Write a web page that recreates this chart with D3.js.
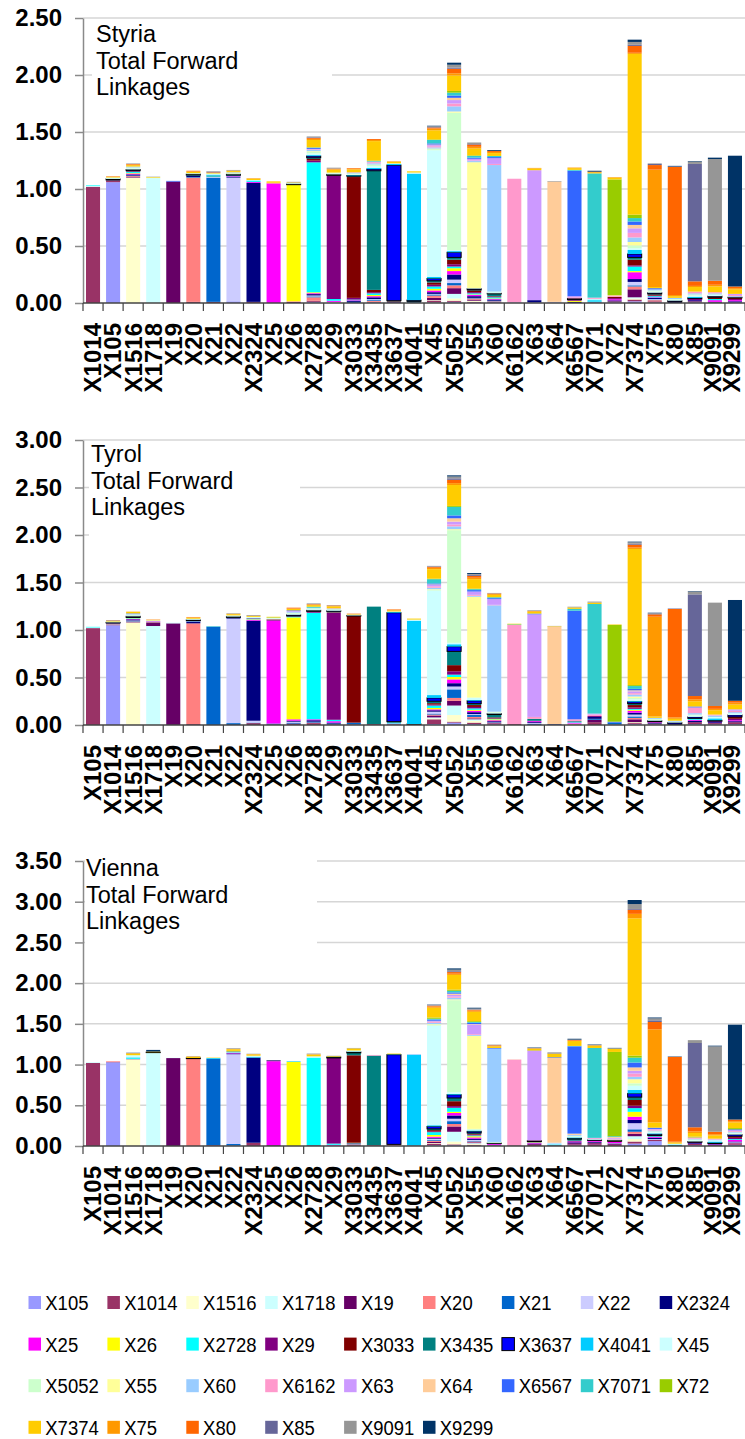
<!DOCTYPE html>
<html>
<head>
<meta charset="utf-8">
<script src="https://cdn.jsdelivr.net/npm/d3@7"></script>
<style>
  body { margin: 0; background: #fff; }
  svg { display: block; font-family: Arial, 'Liberation Sans', sans-serif; }
</style>
</head>
<body>
<div id="chart"></div>
<script>
// supplying sectors, in stacking order (bottom first)
let sectors = ["X105","X1014","X1516","X1718","X19","X20","X21","X22","X2324","X25","X26","X2728","X29","X3033","X3435","X3637","X4041","X45","X5052","X55","X60","X6162","X63","X64","X6567","X7071","X72","X7374","X75","X80","X85","X9091","X9299"]
let sectorColors = ["#9999FF","#993366","#FFFFCC","#CCFFFF","#660066","#FF8080","#0066CC","#CCCCFF","#000080","#FF00FF","#FFFF00","#00FFFF","#800080","#800000","#008080","#0000FF","#00CCFF","#CCFFFF","#CCFFCC","#FFFF99","#99CCFF","#FF99CC","#CC99FF","#FFCC99","#3366FF","#33CCCC","#99CC00","#FFCC00","#FF9900","#FF6600","#666699","#969696","#003366"]

// x-axis categories
let styriaCats = ["X1014","X105","X1516","X1718","X19","X20","X21","X22","X2324","X25","X26","X2728","X29","X3033","X3435","X3637","X4041","X45","X5052","X55","X60","X6162","X63","X64","X6567","X7071","X72","X7374","X75","X80","X85","X9091","X9299"]
let regionCats = ["X105","X1014","X1516","X1718","X19","X20","X21","X22","X2324","X25","X26","X2728","X29","X3033","X3435","X3637","X4041","X45","X5052","X55","X60","X6162","X63","X64","X6567","X7071","X72","X7374","X75","X80","X85","X9091","X9299"]
let yMax = [2.5, 3, 3.5]

// one list of [sector, value] per bar (small ones estimated)
let styriaMix = [
  [["X1014",1.02],["X1718",0.01],["X2728",0.005]],
  [["X105",1.06],["X1014",0.01],["X20",0.005],["X2324",0.005],["X3637",0.008],["X45",0.008],["X5052",0.005],["X7374",0.005],["X75",0.003],["X80",0.003]],
  [["X1516",1.1],["X19",0.005],["X20",0.008],["X21",0.005],["X2324",0.01],["X25",0.008],["X26",0.005],["X2728",0.01],["X29",0.005],["X3033",0.005],["X3637",0.01],["X45",0.01],["X5052",0.008],["X60",0.008],["X7374",0.012],["X75",0.005],["X80",0.005],["X9091",0.005]],
  [["X1718",1.095],["X5052",0.005],["X7374",0.005],["X9091",0.003]],
  [["X19",1.065],["X6567",0.006]],
  [["X1014",0.01],["X20",1.09],["X21",0.005],["X2324",0.012],["X2728",0.005],["X3637",0.008],["X45",0.005],["X5052",0.005],["X7374",0.01],["X75",0.005],["X80",0.005]],
  [["X1014",0.01],["X21",1.09],["X22",0.005],["X2728",0.005],["X3435",0.008],["X4041",0.008],["X45",0.005],["X5052",0.005],["X7374",0.005],["X80",0.005],["X85",0.005],["X9091",0.005]],
  [["X105",0.015],["X22",1.085],["X2324",0.008],["X25",0.005],["X2728",0.008],["X3637",0.008],["X45",0.005],["X5052",0.008],["X60",0.005],["X7374",0.01],["X75",0.005],["X9091",0.005]],
  [["X1014",0.01],["X2324",1.043],["X25",0.008],["X2728",0.008],["X4041",0.005],["X45",0.005],["X7374",0.01],["X75",0.005]],
  [["X25",1.05],["X26",0.005],["X7374",0.012]],
  [["X19",0.008],["X25",0.005],["X26",1.025],["X3637",0.005],["X45",0.005],["X5052",0.005],["X7374",0.005],["X9091",0.005]],
  [["X105",0.01],["X1014",0.01],["X20",0.03],["X21",0.008],["X22",0.008],["X2324",0.012],["X25",0.008],["X26",0.008],["X2728",1.14],["X29",0.015],["X3033",0.015],["X3435",0.01],["X3637",0.015],["X4041",0.008],["X45",0.015],["X5052",0.015],["X55",0.005],["X60",0.01],["X6162",0.005],["X63",0.005],["X6567",0.008],["X7071",0.005],["X7374",0.065],["X75",0.01],["X80",0.008],["X85",0.005],["X9091",0.008]],
  [["X20",0.005],["X22",0.005],["X25",0.01],["X2728",0.015],["X29",1.08],["X3033",0.005],["X3637",0.008],["X45",0.008],["X5052",0.008],["X7374",0.025],["X75",0.005],["X80",0.005],["X9091",0.008]],
  [["X21",0.01],["X2324",0.01],["X25",0.005],["X2728",0.005],["X29",0.015],["X3033",1.06],["X3435",0.008],["X3637",0.005],["X4041",0.005],["X45",0.005],["X5052",0.008],["X60",0.005],["X63",0.005],["X7374",0.025],["X75",0.008],["X80",0.005]],
  [["X105",0.005],["X1014",0.005],["X20",0.01],["X21",0.01],["X22",0.005],["X2324",0.015],["X25",0.01],["X26",0.01],["X2728",0.015],["X29",0.01],["X3033",0.02],["X3435",1.045],["X3637",0.015],["X4041",0.01],["X45",0.015],["X5052",0.015],["X60",0.01],["X6162",0.01],["X63",0.005],["X7071",0.005],["X72",0.005],["X7374",0.17],["X75",0.01],["X80",0.008]],
  [["X2324",0.005],["X29",0.005],["X3033",0.005],["X3435",0.005],["X3637",1.19],["X4041",0.01],["X45",0.005],["X7374",0.012],["X75",0.005]],
  [["X2324",0.005],["X3435",0.01],["X3637",0.01],["X4041",1.11],["X45",0.005],["X5052",0.005],["X7374",0.01]],
  [["X105",0.005],["X1014",0.015],["X1516",0.005],["X19",0.02],["X20",0.02],["X21",0.01],["X22",0.005],["X2324",0.015],["X25",0.015],["X26",0.015],["X2728",0.02],["X29",0.015],["X3033",0.02],["X3435",0.015],["X3637",0.02],["X4041",0.015],["X45",1.11],["X5052",0.01],["X55",0.005],["X60",0.01],["X6162",0.01],["X63",0.01],["X64",0.005],["X6567",0.01],["X7071",0.03],["X72",0.005],["X7374",0.08],["X75",0.015],["X80",0.01],["X85",0.005],["X9091",0.005],["X9299",0.005]],
  [["X105",0.01],["X1014",0.01],["X1516",0.02],["X1718",0.04],["X19",0.05],["X20",0.025],["X21",0.02],["X22",0.03],["X2324",0.045],["X25",0.03],["X26",0.025],["X2728",0.015],["X29",0.02],["X3033",0.04],["X3435",0.02],["X3637",0.045],["X4041",0.01],["X45",0.01],["X5052",1.205],["X55",0.01],["X60",0.045],["X6162",0.025],["X63",0.03],["X64",0.02],["X6567",0.02],["X7071",0.025],["X72",0.015],["X7374",0.135],["X75",0.02],["X80",0.04],["X85",0.01],["X9091",0.025],["X9299",0.018]],
  [["X105",0.005],["X1014",0.005],["X1516",0.01],["X19",0.01],["X20",0.01],["X21",0.005],["X2324",0.015],["X25",0.01],["X26",0.005],["X2728",0.01],["X29",0.01],["X3033",0.015],["X3435",0.005],["X3637",0.01],["X45",0.005],["X55",1.105],["X60",0.01],["X6162",0.005],["X63",0.015],["X6567",0.01],["X7071",0.015],["X72",0.005],["X7374",0.06],["X75",0.015],["X80",0.02],["X85",0.005],["X9091",0.013]],
  [["X105",0.005],["X1014",0.005],["X20",0.005],["X21",0.005],["X2324",0.01],["X25",0.005],["X26",0.005],["X2728",0.01],["X29",0.005],["X3033",0.005],["X3435",0.02],["X3637",0.005],["X45",0.01],["X5052",0.005],["X60",1.11],["X6162",0.01],["X63",0.05],["X6567",0.01],["X7071",0.01],["X7374",0.025],["X75",0.01],["X80",0.01],["X9299",0.007]],
  [["X105",0.005],["X6162",1.085]],
  [["X105",0.005],["X2324",0.02],["X63",1.14],["X7374",0.015],["X75",0.005]],
  [["X105",0.005],["X22",0.005],["X64",1.055],["X9091",0.005]],
  [["X2324",0.01],["X26",0.01],["X3637",0.01],["X29",0.01],["X6162",0.01],["X63",0.01],["X6567",1.1],["X7071",0.008],["X7374",0.015],["X75",0.005]],
  [["X105",0.005],["X21",0.008],["X2728",0.008],["X4041",0.008],["X45",0.008],["X6162",0.01],["X7071",1.09],["X7374",0.01],["X80",0.005],["X9299",0.008]],
  [["X105",0.005],["X1014",0.01],["X2324",0.008],["X25",0.01],["X29",0.01],["X3033",0.01],["X6162",0.008],["X64",0.008],["X72",1.015],["X7374",0.015],["X75",0.005]],
  [["X105",0.015],["X1014",0.015],["X1516",0.01],["X1718",0.01],["X19",0.07],["X20",0.025],["X21",0.01],["X22",0.03],["X2324",0.025],["X25",0.06],["X26",0.01],["X2728",0.04],["X29",0.01],["X3033",0.05],["X3435",0.02],["X3637",0.03],["X4041",0.035],["X45",0.015],["X5052",0.025],["X55",0.03],["X60",0.04],["X6162",0.04],["X63",0.04],["X64",0.03],["X6567",0.03],["X7071",0.03],["X72",0.03],["X7374",1.41],["X75",0.01],["X80",0.06],["X85",0.01],["X9091",0.025],["X9299",0.02]],
  [["X105",0.005],["X1014",0.01],["X20",0.01],["X21",0.005],["X22",0.005],["X2324",0.01],["X25",0.005],["X2728",0.01],["X29",0.005],["X3033",0.01],["X3435",0.005],["X3637",0.01],["X45",0.01],["X5052",0.01],["X60",0.01],["X6567",0.01],["X7374",0.01],["X75",1.03],["X80",0.04],["X85",0.01],["X9091",0.005]],
  [["X2324",0.01],["X3637",0.01],["X45",0.01],["X5052",0.005],["X60",0.01],["X7374",0.015],["X75",0.01],["X80",1.123],["X85",0.005],["X9299",0.005]],
  [["X105",0.005],["X1014",0.01],["X2324",0.01],["X25",0.01],["X3637",0.01],["X4041",0.01],["X45",0.01],["X5052",0.01],["X60",0.01],["X6162",0.015],["X7374",0.04],["X75",0.01],["X80",0.04],["X85",1.03],["X9091",0.02],["X9299",0.005]],
  [["X1014",0.005],["X2324",0.005],["X25",0.015],["X2728",0.01],["X3033",0.015],["X3637",0.01],["X45",0.01],["X5052",0.005],["X60",0.01],["X6162",0.01],["X7374",0.05],["X75",0.015],["X80",0.035],["X9091",1.068],["X9299",0.012]],
  [["X105",0.005],["X2324",0.01],["X25",0.01],["X29",0.01],["X3033",0.01],["X3637",0.005],["X60",0.01],["X6162",0.01],["X63",0.01],["X7374",0.04],["X75",0.01],["X80",0.015],["X9299",1.147]]
]

let tyrolMix = [
  [["X1014",1.02],["X1718",0.005],["X2728",0.005],["X45",0.01]],
  [["X105",1.05],["X1014",0.01],["X1718",0.005],["X19",0.005],["X2324",0.005],["X3637",0.005],["X45",0.005],["X5052",0.005],["X7374",0.005],["X80",0.005],["X9091",0.005]],
  [["X1516",1.08],["X19",0.005],["X20",0.005],["X21",0.005],["X22",0.005],["X2324",0.012],["X25",0.005],["X26",0.005],["X2728",0.01],["X3637",0.012],["X45",0.008],["X5052",0.01],["X60",0.008],["X6567",0.005],["X7374",0.015],["X75",0.003]],
  [["X1718",1.042],["X19",0.035],["X20",0.005],["X2324",0.005],["X25",0.005],["X45",0.005],["X5052",0.005],["X7374",0.005],["X80",0.003]],
  [["X19",1.07],["X45",0.007]],
  [["X1014",0.01],["X20",1.06],["X2324",0.015],["X25",0.005],["X2728",0.008],["X3637",0.008],["X45",0.008],["X5052",0.005],["X7374",0.01],["X75",0.005],["X80",0.003]],
  [["X21",1.035],["X7071",0.005]],
  [["X21",0.02],["X22",1.1],["X2324",0.008],["X2728",0.005],["X3637",0.008],["X45",0.008],["X5052",0.005],["X7374",0.012],["X75",0.005],["X9091",0.005]],
  [["X1014",0.02],["X21",0.005],["X22",0.02],["X2324",1.053],["X25",0.01],["X26",0.005],["X2728",0.008],["X29",0.005],["X45",0.008],["X5052",0.005],["X7374",0.012],["X85",0.005]],
  [["X1014",0.005],["X21",0.01],["X25",1.083],["X29",0.01],["X3033",0.005],["X45",0.008],["X5052",0.008],["X72",0.005],["X7374",0.005]],
  [["X1014",0.01],["X19",0.005],["X21",0.01],["X22",0.01],["X2324",0.01],["X25",0.015],["X26",1.073],["X2728",0.01],["X29",0.005],["X3637",0.012],["X45",0.012],["X5052",0.01],["X60",0.01],["X63",0.007],["X6567",0.008],["X7374",0.015],["X75",0.005],["X80",0.008]],
  [["X1014",0.02],["X20",0.005],["X21",0.01],["X2324",0.015],["X25",0.01],["X2728",1.122],["X29",0.01],["X3033",0.005],["X3637",0.01],["X45",0.012],["X5052",0.01],["X60",0.005],["X7071",0.008],["X72",0.005],["X7374",0.015],["X75",0.005],["X80",0.005],["X9091",0.008]],
  [["X1014",0.005],["X21",0.01],["X2324",0.01],["X25",0.015],["X2728",0.015],["X29",1.127],["X3033",0.005],["X3435",0.01],["X3637",0.005],["X45",0.008],["X5052",0.008],["X60",0.005],["X63",0.005],["X7374",0.02],["X75",0.005],["X80",0.005],["X9091",0.005]],
  [["X1014",0.005],["X21",0.02],["X3033",1.122],["X3637",0.005],["X45",0.005],["X5052",0.005],["X7374",0.005],["X80",0.005]],
  [["X1014",0.01],["X3435",1.236]],
  [["X105",0.005],["X1014",0.005],["X25",0.005],["X2728",0.01],["X3435",0.01],["X3637",1.147],["X4041",0.008],["X45",0.005],["X7374",0.01],["X75",0.007],["X80",0.005]],
  [["X1014",0.005],["X3637",0.005],["X4041",1.088],["X45",0.008],["X5052",0.004],["X7374",0.01]],
  [["X105",0.01],["X1014",0.05],["X1516",0.01],["X1718",0.01],["X19",0.02],["X20",0.01],["X21",0.01],["X22",0.02],["X2324",0.015],["X25",0.01],["X26",0.015],["X2728",0.025],["X29",0.01],["X3033",0.015],["X3435",0.02],["X3637",0.035],["X4041",0.03],["X45",1.1],["X5052",0.01],["X55",0.005],["X60",0.015],["X6162",0.015],["X63",0.015],["X64",0.005],["X6567",0.01],["X7071",0.045],["X72",0.005],["X7374",0.1],["X75",0.015],["X80",0.01],["X85",0.005],["X9091",0.005]],
  [["X105",0.025],["X1014",0.01],["X1516",0.07],["X1718",0.1],["X19",0.05],["X20",0.03],["X21",0.09],["X22",0.03],["X2324",0.035],["X25",0.04],["X26",0.025],["X2728",0.025],["X29",0.035],["X3033",0.065],["X3435",0.145],["X3637",0.05],["X4041",0.025],["X45",0.015],["X5052",1.186],["X55",0.01],["X60",0.03],["X6162",0.02],["X63",0.03],["X64",0.035],["X6567",0.03],["X7071",0.09],["X72",0.01],["X7374",0.22],["X75",0.02],["X80",0.035],["X85",0.015],["X9091",0.02],["X9299",0.012]],
  [["X105",0.01],["X1014",0.015],["X1516",0.02],["X1718",0.015],["X19",0.01],["X20",0.015],["X21",0.02],["X22",0.01],["X2324",0.02],["X25",0.015],["X26",0.01],["X2728",0.015],["X29",0.015],["X3033",0.02],["X3435",0.015],["X3637",0.03],["X4041",0.01],["X45",0.02],["X5052",0.005],["X55",1.06],["X60",0.01],["X6162",0.01],["X63",0.035],["X6567",0.015],["X7071",0.01],["X72",0.005],["X7374",0.1],["X75",0.015],["X80",0.02],["X85",0.01],["X9091",0.01],["X9299",0.01]],
  [["X105",0.005],["X1014",0.01],["X19",0.005],["X20",0.005],["X21",0.005],["X2324",0.01],["X25",0.01],["X26",0.01],["X2728",0.005],["X29",0.005],["X3033",0.01],["X3435",0.03],["X3637",0.01],["X45",0.01],["X5052",0.01],["X60",1.12],["X6162",0.005],["X63",0.06],["X6567",0.01],["X7071",0.01],["X7374",0.025],["X75",0.01],["X80",0.005],["X9091",0.005]],
  [["X1014",0.01],["X6162",1.043],["X7071",0.005],["X72",0.003],["X7374",0.005]],
  [["X21",0.01],["X22",0.01],["X2324",0.01],["X25",0.01],["X29",0.005],["X3435",0.02],["X6162",0.02],["X63",1.08],["X6567",0.008],["X7374",0.02],["X75",0.008],["X9091",0.007]],
  [["X21",0.005],["X2324",0.005],["X64",1.025],["X7374",0.005],["X9091",0.003]],
  [["X20",0.01],["X22",0.005],["X25",0.01],["X2728",0.005],["X3435",0.01],["X6162",0.02],["X6567",1.143],["X7071",0.02],["X7374",0.015],["X9091",0.007]],
  [["X1014",0.03],["X19",0.025],["X21",0.01],["X2324",0.02],["X29",0.01],["X6162",0.015],["X63",0.01],["X7071",1.154],["X7374",0.015],["X9091",0.01]],
  [["X105",0.005],["X21",0.02],["X6567",0.01],["X72",1.018],["X7374",0.005]],
  [["X105",0.01],["X1014",0.01],["X1516",0.01],["X19",0.03],["X20",0.015],["X21",0.015],["X22",0.02],["X2324",0.02],["X25",0.02],["X26",0.01],["X2728",0.01],["X29",0.015],["X3033",0.025],["X3435",0.015],["X3637",0.02],["X4041",0.01],["X45",0.015],["X5052",0.015],["X55",0.015],["X60",0.02],["X6162",0.015],["X63",0.02],["X64",0.01],["X6567",0.015],["X7071",0.03],["X72",0.01],["X7374",1.433],["X75",0.015],["X80",0.03],["X85",0.01],["X9091",0.015],["X9299",0.007]],
  [["X105",0.005],["X1014",0.01],["X2324",0.01],["X25",0.01],["X3637",0.01],["X45",0.01],["X5052",0.01],["X60",0.01],["X7374",0.015],["X75",1.05],["X80",0.025],["X85",0.005],["X9091",0.007],["X9299",0.005]],
  [["X2324",0.01],["X3637",0.015],["X45",0.01],["X60",0.01],["X7374",0.02],["X75",0.015],["X80",1.141],["X85",0.005]],
  [["X105",0.01],["X1014",0.02],["X2324",0.015],["X25",0.01],["X2728",0.015],["X3637",0.015],["X45",0.015],["X5052",0.01],["X60",0.015],["X6162",0.06],["X6567",0.01],["X7374",0.055],["X75",0.02],["X80",0.035],["X85",1.07],["X9091",0.03],["X9299",0.005]],
  [["X105",0.005],["X1014",0.015],["X2324",0.01],["X25",0.01],["X3637",0.01],["X4041",0.02],["X45",0.015],["X60",0.015],["X6162",0.01],["X7374",0.045],["X75",0.015],["X80",0.03],["X9091",1.088]],
  [["X105",0.01],["X1014",0.02],["X2324",0.01],["X25",0.01],["X29",0.015],["X3033",0.02],["X3637",0.02],["X45",0.02],["X60",0.01],["X6162",0.015],["X63",0.015],["X7374",0.05],["X75",0.02],["X80",0.02],["X9299",1.061]]
]

let viennaMix = [
  [["X1014",1.02],["X45",0.008]],
  [["X105",1.028],["X1014",0.004],["X20",0.008]],
  [["X1516",1.065],["X19",0.003],["X2728",0.01],["X4041",0.01],["X45",0.02],["X5052",0.008],["X7374",0.02],["X75",0.005],["X9299",0.004]],
  [["X1718",1.147],["X3637",0.005],["X7374",0.008],["X9299",0.02]],
  [["X19",1.08],["X45",0.003]],
  [["X20",1.073],["X3637",0.008],["X7374",0.015],["X75",0.005],["X9091",0.004]],
  [["X1014",0.01],["X21",1.06],["X4041",0.01],["X7374",0.005]],
  [["X105",0.005],["X21",0.02],["X22",1.102],["X2324",0.01],["X25",0.005],["X4041",0.005],["X5052",0.005],["X6567",0.008],["X72",0.008],["X7374",0.02],["X75",0.005],["X9091",0.008]],
  [["X1014",0.04],["X2324",1.046],["X4041",0.01],["X45",0.008],["X5052",0.005],["X7374",0.015],["X75",0.005],["X9091",0.004]],
  [["X19",0.01],["X25",1.031],["X29",0.01],["X9299",0.005]],
  [["X26",1.033],["X4041",0.007]],
  [["X1014",0.005],["X2324",0.005],["X2728",1.076],["X45",0.008],["X5052",0.008],["X7374",0.02],["X75",0.005],["X9091",0.008]],
  [["X105",0.005],["X25",0.01],["X2728",0.015],["X29",1.052],["X3637",0.01],["X4041",0.005],["X7374",0.008],["X9091",0.003]],
  [["X1014",0.01],["X20",0.01],["X21",0.01],["X2324",0.005],["X26",0.005],["X3033",1.074],["X3435",0.03],["X3637",0.01],["X4041",0.005],["X45",0.01],["X5052",0.005],["X7374",0.025],["X9091",0.005]],
  [["X1014",0.01],["X3435",1.1],["X6162",0.008]],
  [["X1014",0.005],["X20",0.015],["X3637",1.102],["X4041",0.005],["X7374",0.008]],
  [["X19",0.005],["X4041",1.115],["X60",0.008]],
  [["X105",0.01],["X1014",0.015],["X1516",0.01],["X19",0.015],["X20",0.015],["X21",0.01],["X22",0.015],["X2324",0.01],["X25",0.015],["X26",0.02],["X2728",0.035],["X29",0.01],["X3033",0.015],["X3435",0.015],["X3637",0.03],["X4041",0.015],["X45",1.223],["X5052",0.015],["X55",0.005],["X60",0.015],["X6162",0.01],["X63",0.01],["X64",0.005],["X6567",0.015],["X7071",0.01],["X72",0.015],["X7374",0.12],["X75",0.015],["X80",0.01],["X85",0.005],["X9091",0.005],["X9299",0.004]],
  [["X105",0.01],["X1014",0.01],["X1516",0.035],["X1718",0.12],["X19",0.065],["X20",0.03],["X21",0.035],["X22",0.03],["X2324",0.04],["X25",0.03],["X26",0.015],["X2728",0.05],["X29",0.02],["X3033",0.06],["X3435",0.04],["X3637",0.04],["X4041",0.01],["X45",0.02],["X5052",1.131],["X55",0.01],["X60",0.02],["X6162",0.015],["X63",0.02],["X64",0.015],["X6567",0.015],["X7071",0.02],["X72",0.015],["X7374",0.18],["X75",0.015],["X80",0.02],["X85",0.01],["X9091",0.02],["X9299",0.015]],
  [["X105",0.005],["X1014",0.01],["X1516",0.01],["X1718",0.01],["X19",0.01],["X20",0.01],["X21",0.01],["X22",0.01],["X2324",0.015],["X25",0.015],["X26",0.015],["X2728",0.01],["X29",0.01],["X3033",0.01],["X3435",0.01],["X3637",0.02],["X4041",0.01],["X45",0.01],["X5052",0.01],["X55",1.143],["X60",0.01],["X6162",0.01],["X63",0.12],["X64",0.005],["X6567",0.015],["X7071",0.01],["X72",0.01],["X7374",0.115],["X75",0.015],["X80",0.01],["X85",0.005],["X9091",0.01],["X9299",0.01]],
  [["X105",0.005],["X1014",0.005],["X2324",0.005],["X25",0.01],["X26",0.005],["X3637",0.005],["X45",0.01],["X5052",0.005],["X60",1.146],["X6567",0.008],["X7374",0.02],["X75",0.005],["X80",0.008],["X9091",0.008]],
  [["X1014",0.008],["X6162",1.053],["X64",0.003]],
  [["X1014",0.015],["X19",0.01],["X2324",0.005],["X25",0.01],["X26",0.005],["X3435",0.01],["X3637",0.01],["X6162",0.005],["X63",1.097],["X6567",0.005],["X7374",0.02],["X75",0.008],["X9091",0.005],["X9299",0.005]],
  [["X2324",0.005],["X3435",0.005],["X4041",0.01],["X45",0.01],["X60",0.01],["X64",1.042],["X6567",0.008],["X7374",0.045],["X85",0.005],["X9091",0.01]],
  [["X105",0.005],["X1014",0.015],["X19",0.015],["X2324",0.01],["X25",0.01],["X29",0.01],["X3435",0.02],["X3637",0.01],["X4041",0.01],["X45",0.01],["X5052",0.01],["X60",0.012],["X64",0.015],["X6567",1.072],["X7071",0.005],["X7374",0.06],["X75",0.005],["X80",0.008],["X9091",0.005],["X9299",0.01]],
  [["X1014",0.02],["X19",0.015],["X20",0.005],["X2324",0.01],["X25",0.01],["X29",0.01],["X3637",0.005],["X45",0.01],["X6162",0.01],["X63",0.005],["X7071",1.104],["X7374",0.025],["X75",0.008],["X9091",0.005],["X9299",0.005]],
  [["X1014",0.015],["X19",0.01],["X20",0.005],["X21",0.005],["X25",0.015],["X3033",0.01],["X3637",0.01],["X45",0.01],["X6162",0.01],["X63",0.01],["X64",0.01],["X7071",0.01],["X72",1.035],["X7374",0.04],["X9091",0.005],["X9299",0.005]],
  [["X105",0.03],["X1014",0.025],["X1516",0.03],["X1718",0.035],["X19",0.03],["X20",0.025],["X21",0.03],["X22",0.075],["X2324",0.04],["X25",0.04],["X26",0.06],["X2728",0.045],["X29",0.03],["X3033",0.07],["X3435",0.035],["X3637",0.045],["X4041",0.045],["X45",0.05],["X5052",0.03],["X55",0.05],["X60",0.03],["X6162",0.04],["X63",0.035],["X64",0.04],["X6567",0.06],["X7071",0.06],["X72",0.025],["X7374",1.686],["X75",0.055],["X80",0.05],["X85",0.01],["X9091",0.06],["X9299",0.05]],
  [["X105",0.06],["X1014",0.015],["X22",0.01],["X2324",0.015],["X25",0.01],["X2728",0.01],["X3033",0.01],["X3637",0.015],["X4041",0.01],["X45",0.015],["X5052",0.01],["X60",0.01],["X6162",0.01],["X63",0.01],["X6567",0.015],["X7374",0.065],["X75",1.143],["X80",0.09],["X85",0.02],["X9091",0.025],["X9299",0.01]],
  [["X3435",0.01],["X4041",0.008],["X45",0.01],["X7374",0.015],["X75",0.01],["X80",1.041],["X9299",0.005]],
  [["X105",0.01],["X1014",0.015],["X2324",0.01],["X25",0.01],["X3637",0.01],["X45",0.015],["X5052",0.01],["X60",0.01],["X6162",0.015],["X72",0.01],["X7374",0.045],["X75",0.02],["X80",0.05],["X85",1.035],["X9091",0.035]],
  [["X1014",0.01],["X2324",0.01],["X25",0.01],["X3637",0.01],["X4041",0.015],["X45",0.015],["X60",0.01],["X6162",0.01],["X7374",0.04],["X75",0.015],["X80",0.03],["X9091",1.049],["X9299",0.008]],
  [["X105",0.015],["X1014",0.02],["X22",0.01],["X2324",0.01],["X25",0.02],["X2728",0.01],["X29",0.015],["X3033",0.02],["X3637",0.02],["X45",0.015],["X5052",0.01],["X60",0.01],["X6162",0.01],["X63",0.01],["X6567",0.01],["X72",0.015],["X7374",0.07],["X75",0.015],["X80",0.02],["X9299",1.165]]
]

let titleLines = ["Total Forward", "Linkages"]
let regionNames = ["Styria", "Tyrol", "Vienna"]

let color = d3.scaleOrdinal().domain(sectors).range(sectorColors)
let font = "Arial, 'Liberation Sans', sans-serif"

let svg = d3.select('#chart').append('svg')
  .attr('width', 745)
  .attr('height', 1439)

// layout of the three panels
let panels = [
  {cats: styriaCats, mix: styriaMix, top: 18, bottom: 303, tx: 96, ty: 42, box: [92, 21, 240, 80]},
  {cats: regionCats, mix: tyrolMix, top: 440, bottom: 725, tx: 91, ty: 462, box: [89, 443, 211, 98]},
  {cats: regionCats, mix: viennaMix, top: 861, bottom: 1146, tx: 86, ty: 876, box: [85, 855, 232, 95]}
]
let left = 83, right = 745

panels.forEach((p, pi) => {
  let x = d3.scaleBand().domain(p.cats).range([left, right]).paddingInner(0.3).paddingOuter(0.15)
  let y = d3.scaleLinear().domain([0, yMax[pi]]).range([p.bottom, p.top])
  let ticks = d3.range(0, yMax[pi] + 0.01, 0.5)
  let g = svg.append('g')

  // gridlines
  g.selectAll('line.grid').data(ticks.filter(t => t > 0)).enter().append('line')
    .attr('class', 'grid')
    .attr('x1', left).attr('x2', right)
    .attr('y1', d => y(d)).attr('y2', d => y(d))
    .attr('stroke', '#d6d6d6').attr('stroke-width', 1.5)

  // title box
  g.append('rect')
    .attr('x', p.box[0]).attr('y', p.box[1])
    .attr('width', p.box[2]).attr('height', p.box[3])
    .attr('fill', '#fff')
  let t = g.append('text')
    .attr('x', p.tx).attr('y', p.ty)
    .attr('font-size', 23.5).attr('font-family', font).attr('fill', '#000')
  ;[regionNames[pi]].concat(titleLines).forEach((line, i) => {
    t.append('tspan').attr('x', p.tx).attr('dy', i == 0 ? 0 : 26.5).text(line)
  })

  // stacked bars
  let rows = p.cats.map((c, i) => {
    let row = {cat: c}
    sectors.forEach(s => row[s] = 0)
    p.mix[i].forEach(([s, v]) => row[s] += v)
    return row
  })
  let stacked = d3.stack().keys(sectors)(rows)

  g.selectAll('g.layer').data(stacked).enter().append('g')
    .attr('class', 'layer')
    .attr('fill', d => color(d.key))
    .attr('stroke', d => d.key == 'X3637' ? '#000' : 'none')
    .attr('stroke-width', 1)
    .selectAll('rect')
    .data(d => d.filter(e => e[1] - e[0] > 0))
    .enter().append('rect')
      .attr('x', d => x(d.data.cat))
      .attr('width', x.bandwidth())
      .attr('y', d => y(d[1]))
      .attr('height', d => y(d[0]) - y(d[1]))

  // y axis
  let yAxis = d3.axisLeft(y).tickValues(ticks).tickFormat(d3.format('.2f'))
    .tickSize(8).tickSizeOuter(0).tickPadding(13)
  g.append('g')
    .attr('transform', `translate(${left}, 0)`)
    .call(yAxis)
    .call(a => a.selectAll('path, line').attr('stroke', '#8a8a8a').attr('stroke-width', 1.5))
    .call(a => a.selectAll('text').attr('font-size', 24).attr('font-weight', 'bold')
      .attr('font-family', font).attr('fill', '#000'))

  // x axis
  let xa = g.append('g')
  xa.append('line')
    .attr('x1', left).attr('x2', right)
    .attr('y1', p.bottom).attr('y2', p.bottom)
    .attr('stroke', '#444').attr('stroke-width', 1.5)
  let bounds = p.cats.map(c => x(c) - x.step() * x.paddingOuter()).concat([right])
  xa.selectAll('line.tick').data(bounds).enter().append('line')
    .attr('class', 'tick')
    .attr('x1', d => d).attr('x2', d => d)
    .attr('y1', p.bottom).attr('y2', p.bottom + 8)
    .attr('stroke', '#444').attr('stroke-width', 1.2)

  // label positions: centred on bands, nudged left at the page edge so none is cut
  let labelX = p.cats.map(c => x(c) + x.bandwidth() / 2)
  for (let i = labelX.length - 1; i >= 0; i--) {
    let limit = i == labelX.length - 1 ? right - 13.6 : labelX[i + 1] - 18.5
    labelX[i] = Math.min(labelX[i], limit)
  }
  xa.selectAll('text').data(p.cats).enter().append('text')
    .attr('transform', (d, i) => `translate(${labelX[i]}, ${p.bottom + 20}) rotate(-90)`)
    .attr('text-anchor', 'end')
    .attr('dy', '0.35em')
    .attr('font-size', 24).attr('font-weight', 'bold').attr('font-family', font)
    .text(d => d)
})

// legend
let legend = svg.append('g')
sectors.forEach((s, i) => {
  let col = i % 9, row = Math.floor(i / 9)
  let lx = 28.5 + col * 78.9, ly = 1302.5 + row * 41.6
  legend.append('rect')
    .attr('x', lx).attr('y', ly - 6.5)
    .attr('width', 12.5).attr('height', 13)
    .attr('fill', color(s))
    .attr('stroke', s == 'X3637' ? '#000' : 'none')
  legend.append('text')
    .attr('transform', `translate(${lx + 16.8}, ${ly}) scale(0.88, 1)`)
    .attr('dy', '0.36em')
    .attr('font-size', 21).attr('font-family', font)
    .text(s)
})
</script>
</body>
</html>
